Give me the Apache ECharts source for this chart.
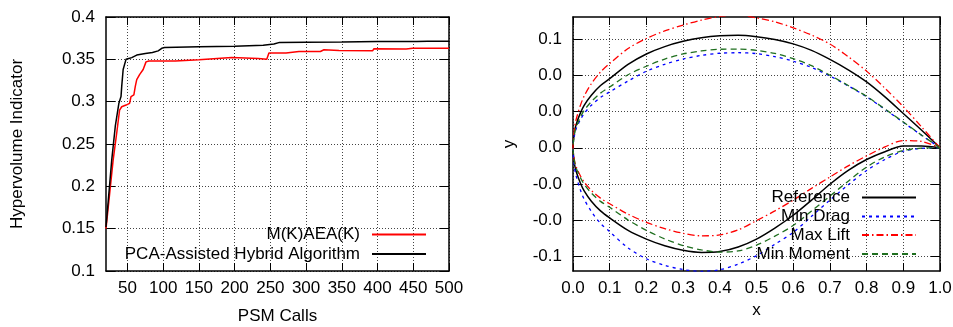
<!DOCTYPE html>
<html>
<head>
<meta charset="utf-8">
<script src="https://cdn.jsdelivr.net/npm/echarts@6/dist/echarts.min.js"></script>
<style>
  html, body { margin: 0; padding: 0; background: #fff; }
  #chart { width: 953px; height: 327px; }
</style>
</head>
<body>
<div id="chart"></div>
<script>
// left panel: hypervolume vs PSM calls
const psmRed = [20, 30, 35, 39, 40, 42, 48, 53, 55, 59, 61, 63, 67, 72, 76, 80, 117, 150, 196, 233, 245, 248, 272, 290, 320, 325, 346, 393, 395, 440, 449, 500];
const hvRed = [0.150, 0.231, 0.263, 0.290, 0.291, 0.294, 0.296, 0.298, 0.306, 0.308, 0.318, 0.326, 0.332, 0.338, 0.347, 0.348, 0.348, 0.3495, 0.3522, 0.351, 0.350, 0.3574, 0.3574, 0.3593, 0.3593, 0.3613, 0.3605, 0.360, 0.3625, 0.3621, 0.363, 0.363];
const psmBlack = [20, 28, 33, 38, 41, 42, 44, 46, 48, 52, 56, 63, 75, 85, 93, 98, 102, 150, 200, 240, 255, 263, 300, 350, 400, 455, 470, 500];
const hvBlack = [0.152, 0.231, 0.271, 0.298, 0.306, 0.318, 0.338, 0.340, 0.350, 0.351, 0.352, 0.355, 0.357, 0.358, 0.360, 0.363, 0.364, 0.365, 0.3655, 0.3665, 0.368, 0.370, 0.3703, 0.3705, 0.371, 0.371, 0.3715, 0.3715];
const psmTicks = [50, 100, 150, 200, 250, 300, 350, 400, 450, 500];

// right panel: airfoil shapes, upper and lower surfaces
const xc = [0, 0.005, 0.01, 0.02, 0.03, 0.05, 0.075, 0.1, 0.15, 0.2, 0.25, 0.3, 0.35, 0.4, 0.45, 0.5, 0.55, 0.6, 0.65, 0.7, 0.75, 0.8, 0.85, 0.9, 0.95, 1.0];
const refUpper = [0, 0.0100, 0.0138, 0.0192, 0.0234, 0.0291, 0.0345, 0.0383, 0.0462, 0.0520, 0.0561, 0.0590, 0.0610, 0.0621, 0.0624, 0.0616, 0.0600, 0.0576, 0.0540, 0.0490, 0.0432, 0.0365, 0.0282, 0.0190, 0.0097, 0];
const refLower = [0, -0.0101, -0.0140, -0.0195, -0.0237, -0.0296, -0.0350, -0.0389, -0.0458, -0.0506, -0.0543, -0.0568, -0.0580, -0.0575, -0.0550, -0.0506, -0.0445, -0.0374, -0.0290, -0.0202, -0.0125, -0.0065, -0.0022, 0.0010, 0.0010, 0];
const dragUpper = [0, 0.0081, 0.0112, 0.0155, 0.0189, 0.0236, 0.0279, 0.0310, 0.0370, 0.0424, 0.0463, 0.0492, 0.0512, 0.0524, 0.0527, 0.0522, 0.0505, 0.0480, 0.0445, 0.0398, 0.0343, 0.0283, 0.0213, 0.0141, 0.0069, 0];
const dragLower = [0, -0.0121, -0.0167, -0.0233, -0.0284, -0.0353, -0.0419, -0.0465, -0.0555, -0.0615, -0.0652, -0.0675, -0.0685, -0.0676, -0.0645, -0.0598, -0.0535, -0.0469, -0.0380, -0.0290, -0.0205, -0.0126, -0.0065, -0.0019, -0.0003, 0];
const liftUpper = [0, 0.0121, 0.0168, 0.0234, 0.0285, 0.0355, 0.0420, 0.0467, 0.0550, 0.0606, 0.0648, 0.0680, 0.0708, 0.0728, 0.0736, 0.0720, 0.0698, 0.0665, 0.0625, 0.0575, 0.0505, 0.0425, 0.0330, 0.0228, 0.0115, 0];
const liftLower = [0, -0.0081, -0.0112, -0.0155, -0.0189, -0.0236, -0.0279, -0.0310, -0.0368, -0.0413, -0.0448, -0.0474, -0.0488, -0.0483, -0.0455, -0.0404, -0.0350, -0.0290, -0.0225, -0.0162, -0.0100, -0.0045, 0.0005, 0.0040, 0.0035, 0];
const momentUpper = [0, 0.0088, 0.0121, 0.0169, 0.0206, 0.0256, 0.0303, 0.0337, 0.0405, 0.0452, 0.0492, 0.0520, 0.0537, 0.0546, 0.0547, 0.0540, 0.0523, 0.0494, 0.0455, 0.0402, 0.0345, 0.0285, 0.0215, 0.0143, 0.0070, 0];
const momentLower = [0, -0.0086, -0.0119, -0.0165, -0.0201, -0.0251, -0.0297, -0.0330, -0.0400, -0.0458, -0.0505, -0.0542, -0.0566, -0.0578, -0.0572, -0.0540, -0.0490, -0.0431, -0.0350, -0.0268, -0.0185, -0.0107, -0.0050, -0.0015, -0.0002, 0];
const yTicks = [-0.06, -0.04, -0.02, 0, 0.02, 0.04, 0.06];

const FONT = "'Liberation Sans', Arial, Helvetica, sans-serif";
const FS = 17;

function pairs(xs, ys) {
    return xs.map((x, i) => [x, ys[i]]);
}

// upper surface from trailing edge to leading edge, then lower back to trailing edge
function outline(up, lo) {
    const res = [];
    for (let i = xc.length - 1; i >= 0; i--) res.push([xc[i], up[i]]);
    for (let i = 1; i < xc.length; i++) res.push([xc[i], lo[i]]);
    return res;
}

const gridLine = { show: true, lineStyle: { color: '#444', type: [1, 2], width: 1 } };
const border = { show: true, onZero: false, lineStyle: { color: '#000', width: 1.5 } };
const labelStyle = { color: '#000', fontSize: FS, fontFamily: FONT };

function legendItem(name, right, top) {
    return {
        data: [name],
        right: right,
        top: top,
        orient: 'horizontal',
        align: 'right',
        padding: 0,
        itemWidth: 54,
        itemHeight: 17,
        selectedMode: false,
        itemStyle: { opacity: 0 },
        textStyle: { color: '#000', fontSize: FS, fontFamily: FONT, padding: [0, 7, 0, 0] }
    };
}

const chart = echarts.init(document.getElementById('chart'));

const option = {
    backgroundColor: '#fff',
    animation: false,
    grid: [
        { left: 106, top: 17, width: 343, height: 254, outerBoundsMode: 'none', containLabel: false },
        { left: 573, top: 17, width: 367, height: 254, outerBoundsMode: 'none', containLabel: false }
    ],
    legend: [
        legendItem('M(K)AEA(K)', 526, 226),
        legendItem('PCA-Assisted Hybrid Algorithm', 526, 245.5),
        legendItem('Reference', 36, 189),
        legendItem('Min Drag', 36, 208),
        legendItem('Max Lift', 36, 226.5),
        legendItem('Min Moment', 36, 245.5)
    ],
    xAxis: [
        {
            gridIndex: 0, type: 'value', min: 20, max: 500, position: 'bottom',
            name: 'PSM Calls', nameLocation: 'middle', nameGap: 37,
            nameTextStyle: labelStyle,
            axisLine: border,
            axisTick: { inside: true, length: 8, customValues: psmTicks, lineStyle: { color: '#000' } },
            axisLabel: Object.assign({ margin: 9, customValues: psmTicks }, labelStyle),
            splitLine: gridLine
        },
        {
            gridIndex: 0, type: 'value', min: 20, max: 500, position: 'top',
            axisLine: border,
            axisTick: { inside: true, length: 8, customValues: psmTicks, lineStyle: { color: '#000' } },
            axisLabel: { show: false },
            splitLine: { show: false }
        },
        {
            gridIndex: 1, type: 'value', min: 0, max: 1, interval: 0.1, position: 'bottom',
            name: 'x', nameLocation: 'middle', nameGap: 29,
            nameTextStyle: labelStyle,
            axisLine: border,
            axisTick: { inside: true, length: 8, lineStyle: { color: '#000' } },
            axisLabel: Object.assign({ margin: 9, formatter: v => v.toFixed(1) }, labelStyle),
            splitLine: gridLine
        },
        {
            gridIndex: 1, type: 'value', min: 0, max: 1, interval: 0.1, position: 'top',
            axisLine: border,
            axisTick: { inside: true, length: 8, lineStyle: { color: '#000' } },
            axisLabel: { show: false },
            splitLine: { show: false }
        }
    ],
    yAxis: [
        {
            gridIndex: 0, type: 'value', min: 0.1, max: 0.4, interval: 0.05, position: 'left',
            name: 'Hypervolume Indicator', nameLocation: 'middle', nameGap: 80,
            nameTextStyle: labelStyle,
            axisLine: border,
            axisTick: { inside: true, length: 9, lineStyle: { color: '#000' } },
            axisLabel: Object.assign({ margin: 11 }, labelStyle),
            splitLine: gridLine
        },
        {
            gridIndex: 0, type: 'value', min: 0.1, max: 0.4, interval: 0.05, position: 'right',
            axisLine: border,
            axisTick: { inside: true, length: 9, lineStyle: { color: '#000' } },
            axisLabel: { show: false },
            splitLine: { show: false }
        },
        {
            gridIndex: 1, type: 'value', min: -0.0683, max: 0.0725, position: 'left',
            name: 'y', nameLocation: 'middle', nameGap: 55,
            nameTextStyle: labelStyle,
            axisLine: border,
            axisTick: { inside: true, length: 9, customValues: yTicks, lineStyle: { color: '#000' } },
            axisLabel: Object.assign({ margin: 11, customValues: yTicks, formatter: v => v.toFixed(1) }, labelStyle),
            splitLine: gridLine
        },
        {
            gridIndex: 1, type: 'value', min: -0.0683, max: 0.0725, position: 'right',
            axisLine: border,
            axisTick: { inside: true, length: 9, customValues: yTicks, lineStyle: { color: '#000' } },
            axisLabel: { show: false },
            splitLine: { show: false }
        }
    ],
    series: [
        {
            name: 'M(K)AEA(K)', type: 'line', xAxisIndex: 0, yAxisIndex: 0,
            data: pairs(psmRed, hvRed), symbol: 'none', color: '#ff0000',
            lineStyle: { color: '#ff0000', width: 1.5 }
        },
        {
            name: 'PCA-Assisted Hybrid Algorithm', type: 'line', xAxisIndex: 0, yAxisIndex: 0,
            data: pairs(psmBlack, hvBlack), symbol: 'none', color: '#000',
            lineStyle: { color: '#000', width: 1.5 }
        },
        {
            name: 'Reference', type: 'line', xAxisIndex: 2, yAxisIndex: 2,
            data: outline(refUpper, refLower), symbol: 'none', smooth: 0.3, color: '#000',
            lineStyle: { color: '#000', width: 1.5 }
        },
        {
            name: 'Min Drag', type: 'line', xAxisIndex: 2, yAxisIndex: 2,
            data: outline(dragUpper, dragLower), symbol: 'none', smooth: 0.3, color: '#0000ff',
            lineStyle: { color: '#0000ff', width: 1.3, type: [3, 4] }
        },
        {
            name: 'Max Lift', type: 'line', xAxisIndex: 2, yAxisIndex: 2,
            data: outline(liftUpper, liftLower), symbol: 'none', smooth: 0.3, color: '#ff0000',
            lineStyle: { color: '#ff0000', width: 1.3, type: [7, 3, 1.5, 3] }
        },
        {
            name: 'Min Moment', type: 'line', xAxisIndex: 2, yAxisIndex: 2,
            data: outline(momentUpper, momentLower), symbol: 'none', smooth: 0.3, color: '#1f6f1f',
            lineStyle: { color: '#1f6f1f', width: 1.3, type: [6, 4] }
        }
    ]
};

chart.setOption(option);
</script>
</body>
</html>
